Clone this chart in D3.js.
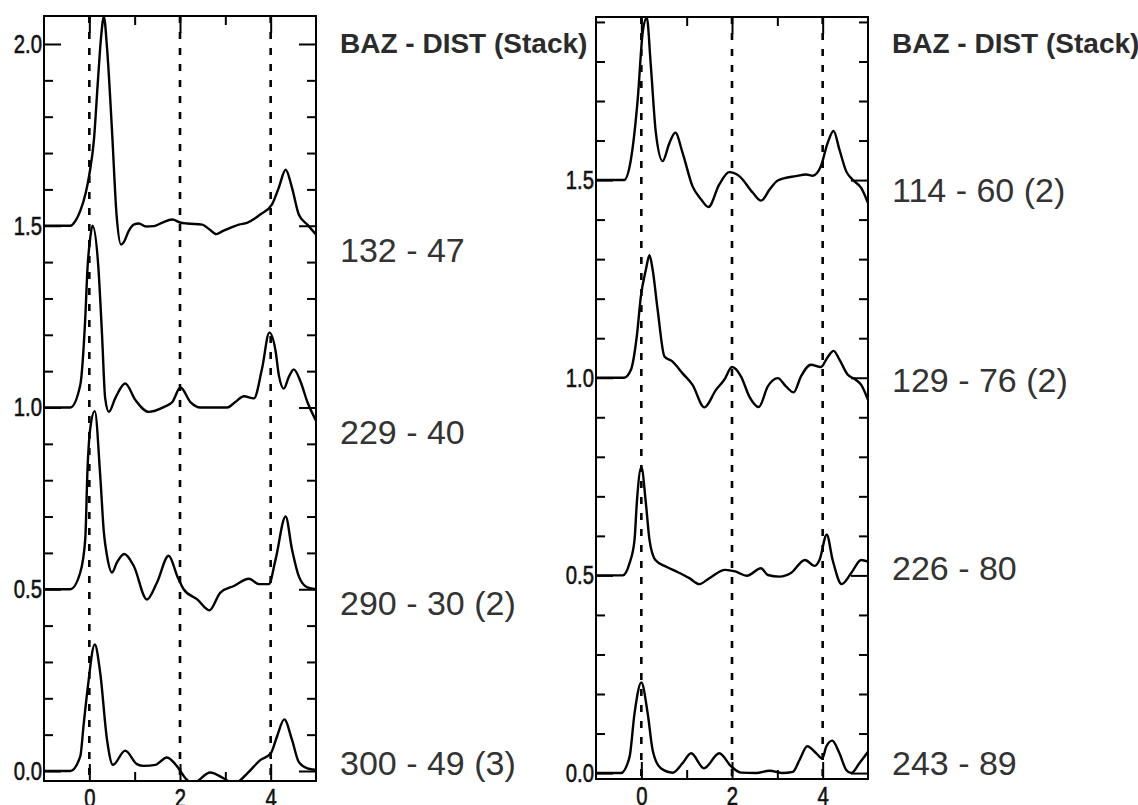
<!DOCTYPE html>
<html>
<head>
<meta charset="utf-8">
<script src="https://cdn.jsdelivr.net/npm/d3@7"></script>
<style>
    body { margin: 0; background: #fff; }
    svg { display: block; }
    .frame { fill: none; stroke: #000; stroke-width: 2; }
    .axis .domain { display: none; }
    .axis line { stroke: #000; stroke-width: 2; }
    .guide { stroke: #000; stroke-width: 2.6; stroke-dasharray: 7 9; }
    .trace { fill: none; stroke: #000; stroke-width: 2.4; stroke-linejoin: round; }
    .title { font-family: "Liberation Sans", Arial, sans-serif; font-weight: bold; font-size: 28px; fill: #2b2b2b; }
    .station { font-family: "Liberation Sans", Arial, sans-serif; font-size: 34px; fill: #333; }
</style>
</head>
<body>
<div id="chart"></div>
<script>

// stacked receiver functions, [time (s), amplitude]
var rf_132_47 = [[-1,0],[-0.42,0],[-0.3,0.015],[-0.2,0.041],[-0.08,0.09],[0,0.141],[0.1,0.234],[0.19,0.4],[0.26,0.52],[0.32,0.575],
    [0.39,0.49],[0.5,0.262],[0.6,0.031],[0.7,-0.052],[0.76,-0.045],[0.87,-0.014],[0.98,0.003],[1.09,0.006],[1.25,-0.002],[1.42,-0.001],
    [1.6,0.008],[1.83,0.017],[2.0,0.009],[2.16,0.006],[2.49,0.003],[2.65,-0.01],[2.8,-0.023],[2.95,-0.014],[3.11,-0.006],[3.3,0.003],
    [3.48,0.008],[3.65,0.02],[3.77,0.031],[4.03,0.059],[4.18,0.105],[4.33,0.154],[4.47,0.105],[4.62,0.031],[4.81,0.003],[5,-0.024]];

var rf_229_40 = [[-1,0],[-0.42,0],[-0.2,0.062],[-0.09,0.246],[-0.04,0.384],[0.02,0.467],[0.07,0.5],[0.2,0.384],[0.28,0.2],[0.35,0.025],
    [0.43,-0.012],[0.57,0.025],[0.79,0.066],[1.02,0.02],[1.31,-0.012],[1.64,0.001],[1.83,0.015],[2.01,0.055],[2.23,0.015],[2.45,0],
    [3.04,0],[3.22,0.015],[3.41,0.031],[3.63,0.025],[3.81,0.107],[3.97,0.206],[4.11,0.154],[4.18,0.089],[4.29,0.052],[4.4,0.084],
    [4.51,0.105],[4.66,0.071],[4.81,0.015],[5,-0.036]];

var rf_290_30 = [[-1,0],[-0.42,0],[-0.2,0.046],[-0.09,0.138],[-0.04,0.331],[0.02,0.442],[0.12,0.49],[0.24,0.313],[0.32,0.157],[0.39,0.092],
    [0.5,0.046],[0.61,0.074],[0.77,0.097],[0.98,0.064],[1.27,-0.028],[1.49,0.018],[1.75,0.092],[1.94,0.036],[2.08,0],[2.38,-0.028],
    [2.65,-0.058],[2.89,-0.009],[3.19,0.009],[3.52,0.029],[3.74,0.014],[3.96,0.014],[4.11,0.083],[4.33,0.2],[4.47,0.11],[4.62,0.036],
    [4.81,0.005],[5,0]];

var rf_300_49 = [[-1,0],[-0.42,0],[-0.2,0.04],[-0.13,0.122],[-0.04,0.224],[0.12,0.348],[0.24,0.27],[0.39,0.086],[0.52,0.017],[0.79,0.056],
    [1.05,0.019],[1.2,0.014],[1.46,0.017],[1.71,0.037],[1.94,0.012],[2.12,-0.02],[2.27,-0.035],[2.67,-0.004],[2.96,-0.02],[3.19,-0.035],
    [3.48,-0.007],[3.77,0.03],[4.0,0.048],[4.14,0.095],[4.3,0.142],[4.47,0.086],[4.62,0.025],[4.81,0.007],[5,0.003]];

var rf_114_60 = [[-1,0],[-0.38,0],[-0.23,0.052],[-0.08,0.204],[0.03,0.373],[0.12,0.411],[0.21,0.288],[0.32,0.12],[0.47,0.048],[0.62,0.094],
    [0.75,0.12],[0.91,0.069],[1.13,-0.016],[1.32,-0.049],[1.48,-0.068],[1.72,-0.011],[1.94,0.02],[2.16,0.01],[2.46,-0.032],[2.64,-0.052],
    [2.83,-0.024],[3.01,-0.001],[3.41,0.01],[3.64,0.014],[3.78,0.011],[3.96,0.035],[4.11,0.094],[4.24,0.124],[4.37,0.077],[4.52,0.022],
    [4.66,0.001],[4.85,-0.02],[5,-0.058]];

var rf_129_76 = [[-1,0],[-0.38,0],[-0.23,0.02],[-0.1,0.105],[-0.01,0.206],[0.1,0.273],[0.18,0.31],[0.25,0.273],[0.36,0.172],[0.51,0.054],
    [0.69,0.041],[0.91,0.011],[1.13,-0.018],[1.39,-0.075],[1.65,-0.03],[1.83,-0.005],[2.0,0.027],[2.2,0.003],[2.38,-0.047],[2.59,-0.074],
    [2.79,-0.022],[3.01,-0.001],[3.19,-0.022],[3.36,-0.037],[3.52,0.003],[3.74,0.033],[3.96,0.027],[4.11,0.052],[4.24,0.068],[4.37,0.046],
    [4.55,0.008],[4.73,-0.005],[4.85,-0.018],[5,-0.056]];

var rf_226_80 = [[-1,0],[-0.41,0],[-0.26,0.031],[-0.15,0.09],[-0.1,0.183],[0,0.274],[0.1,0.183],[0.18,0.09],[0.31,0.039],[0.55,0.022],
    [0.77,0.01],[1.06,-0.007],[1.28,-0.022],[1.5,-0.007],[1.85,0.014],[2.07,0.01],[2.33,-0.001],[2.64,0.018],[2.79,0.001],[3.05,-0.003],
    [3.3,0.006],[3.61,0.039],[3.82,0.024],[3.93,0.039],[4.09,0.103],[4.22,0.039],[4.42,-0.022],[4.63,0.006],[4.85,0.039],[5,0.035]];

var rf_243_89 = [[-1,0],[-0.45,0],[-0.26,0.041],[-0.15,0.151],[0,0.229],[0.14,0.151],[0.25,0.058],[0.43,0.012],[0.69,0.001],[0.91,0.025],
    [1.1,0.05],[1.38,0.012],[1.72,0.05],[1.98,0.017],[2.2,0.001],[2.53,0],[2.83,0.006],[3.12,0],[3.34,0.003],[3.49,0.033],
    [3.66,0.068],[3.86,0.05],[3.99,0.037],[4.08,0.067],[4.21,0.082],[4.37,0.05],[4.52,0.008],[4.63,0],[4.81,0.025],[5,0.054]];

var offsets = [1.5, 1.0, 0.5, 0.0];
var left_stations = ["132 - 47", "229 - 40", "290 - 30 (2)", "300 - 49 (3)"];
var right_stations = ["114 - 60 (2)", "129 - 76 (2)", "226 - 80", "243 - 89"];
var title = "BAZ - DIST (Stack)";

var x_domain = [-1, 5];
var x_labels = [0, 2, 4];
var x_minor = [1, 3];
var left_y_labels = [0, 0.5, 1.0, 1.5, 2.0];
var right_y_labels = [0, 0.5, 1.0, 1.5];


function panel() {

    var pos = [0, 0]
        , width = 272
        , height = 765
        , ydomain = [0, 2]
        , traces = []
        , stations = []
        , label_y = []
        , ylabels = []
        , id = "p"
        , squeeze = 0.78   // axis numbers are set in a narrow face
        ;

    function numbers(sel) {
        sel.style("font-family", "'Liberation Sans', Arial, sans-serif")
            .style("font-size", "26px")
            .style("fill", "#111")
            .style("stroke", "#111")
            .style("stroke-width", "0.6px");
    }

    function my(svg) {
        var w = width, h = height;

        var g = svg.append("g")
            .attr("transform", "translate(" + pos[0] + "," + pos[1] + ")");

        var x = d3.scaleLinear().domain(x_domain).range([0, w]);
        var y = d3.scaleLinear().domain(ydomain).range([h, 0]);

        var yticks = d3.range(0, Math.round(ydomain[1] * 10) + 1)
            .map(function(d) { return d / 10; })
            .filter(function(d) { return d <= ydomain[1]; });

        function major(d) { return Math.abs(d * 2 - Math.round(d * 2)) < 1e-6; }

        svg.append("clipPath")
            .attr("id", "clip-" + id)
            .append("rect")
            .attr("width", w)
            .attr("height", h);

        // dashed guides at 0, 2, 4 s
        g.selectAll(".guide")
            .data(x_labels)
            .enter().append("line")
            .attr("class", "guide")
            .attr("x1", function(d) { return x(d); })
            .attr("x2", function(d) { return x(d); })
            .attr("y1", 0)
            .attr("y2", h);

        var yLeft = d3.axisLeft(y)
            .tickValues(yticks)
            .tickSizeInner(-9)
            .tickSizeOuter(0)
            .tickPadding(2)
            .tickFormat(function(d) {
                return ylabels.some(function(l) { return Math.abs(l - d) < 1e-6; }) ? d3.format(".1f")(d) : "";
            });

        var gy = g.append("g")
            .attr("class", "axis axis--y")
            .call(yLeft);

        gy.selectAll(".tick line")
            .attr("x2", function(d) { return major(d) ? 17 : 9; });

        gy.selectAll(".tick text")
            .attr("x", null)
            .attr("transform", "translate(-2,0) scale(" + squeeze + ",1)")
            .call(numbers);

        var yRight = d3.axisRight(y)
            .tickValues(yticks)
            .tickSizeInner(-9)
            .tickSizeOuter(0)
            .tickFormat("");

        g.append("g")
            .attr("class", "axis axis--y2")
            .attr("transform", "translate(" + w + ",0)")
            .call(yRight)
            .selectAll(".tick line")
            .attr("x2", function(d) { return major(d) ? -17 : -9; });

        var xvals = x_labels.concat(x_minor).sort();

        var xTop = d3.axisTop(x)
            .tickValues(xvals)
            .tickSizeInner(-9)
            .tickSizeOuter(0)
            .tickFormat("");

        g.append("g")
            .attr("class", "axis axis--x2")
            .call(xTop)
            .selectAll(".tick line")
            .attr("y2", function(d) { return x_labels.indexOf(d) >= 0 ? 17 : 9; });

        var xBottom = d3.axisBottom(x)
            .tickValues(xvals)
            .tickSizeInner(-9)
            .tickSizeOuter(0)
            .tickPadding(9)
            .tickFormat(function(d) { return x_labels.indexOf(d) >= 0 ? d : ""; });

        var gx = g.append("g")
            .attr("class", "axis axis--x")
            .attr("transform", "translate(0," + h + ")")
            .call(xBottom);

        gx.selectAll(".tick line")
            .attr("y2", function(d) { return x_labels.indexOf(d) >= 0 ? -17 : -9; });

        gx.selectAll(".tick text")
            .attr("y", null)
            .attr("transform", "translate(0,8) scale(" + squeeze + ",1)")
            .call(numbers);

        var traces_g = g.append("g")
            .attr("clip-path", "url(#clip-" + id + ")");

        traces.forEach(function(tr, i) {
            var line = d3.line()
                .curve(d3.curveMonotoneX)
                .x(function(d) { return x(d[0]); })
                .y(function(d) { return y(d[1] + offsets[i]); });

            traces_g.append("path")
                .datum(tr)
                .attr("class", "trace")
                .attr("d", line);
        });

        g.append("rect")
            .attr("class", "frame")
            .attr("width", w)
            .attr("height", h);

        g.append("text")
            .attr("class", "title")
            .attr("x", w + 24)
            .attr("y", 53 - pos[1])
            .text(title);

        g.selectAll(".station")
            .data(stations)
            .enter().append("text")
            .attr("class", "station")
            .attr("x", w + 24)
            .attr("y", function(d, i) { return label_y[i] - pos[1]; })
            .text(function(d) { return d; });
    }

    my.pos = function(value) { if (!arguments.length) return pos; pos = value; return my; };
    my.width = function(value) { if (!arguments.length) return width; width = value; return my; };
    my.height = function(value) { if (!arguments.length) return height; height = value; return my; };
    my.ydomain = function(value) { if (!arguments.length) return ydomain; ydomain = value; return my; };
    my.traces = function(value) { if (!arguments.length) return traces; traces = value; return my; };
    my.stations = function(value) { if (!arguments.length) return stations; stations = value; return my; };
    my.labelY = function(value) { if (!arguments.length) return label_y; label_y = value; return my; };
    my.ylabels = function(value) { if (!arguments.length) return ylabels; ylabels = value; return my; };
    my.id = function(value) { if (!arguments.length) return id; id = value; return my; };

    return my;
}


var svg = d3.select("#chart")
    .append("svg")
    .attr("width", 1138)
    .attr("height", 805);

svg.call(panel()
    .id("left")
    .pos([44, 16])
    .width(272)
    .height(765)
    .ydomain([-0.0275, 2.077])
    .traces([rf_132_47, rf_229_40, rf_290_30, rf_300_49])
    .stations(left_stations)
    .labelY([262, 444, 615, 775])
    .ylabels(left_y_labels));

svg.call(panel()
    .id("right")
    .pos([596, 17])
    .width(272)
    .height(762)
    .ydomain([-0.015, 1.9125])
    .traces([rf_114_60, rf_129_76, rf_226_80, rf_243_89])
    .stations(right_stations)
    .labelY([202, 392, 580, 775])
    .ylabels(right_y_labels));

</script>
</body>
</html>
